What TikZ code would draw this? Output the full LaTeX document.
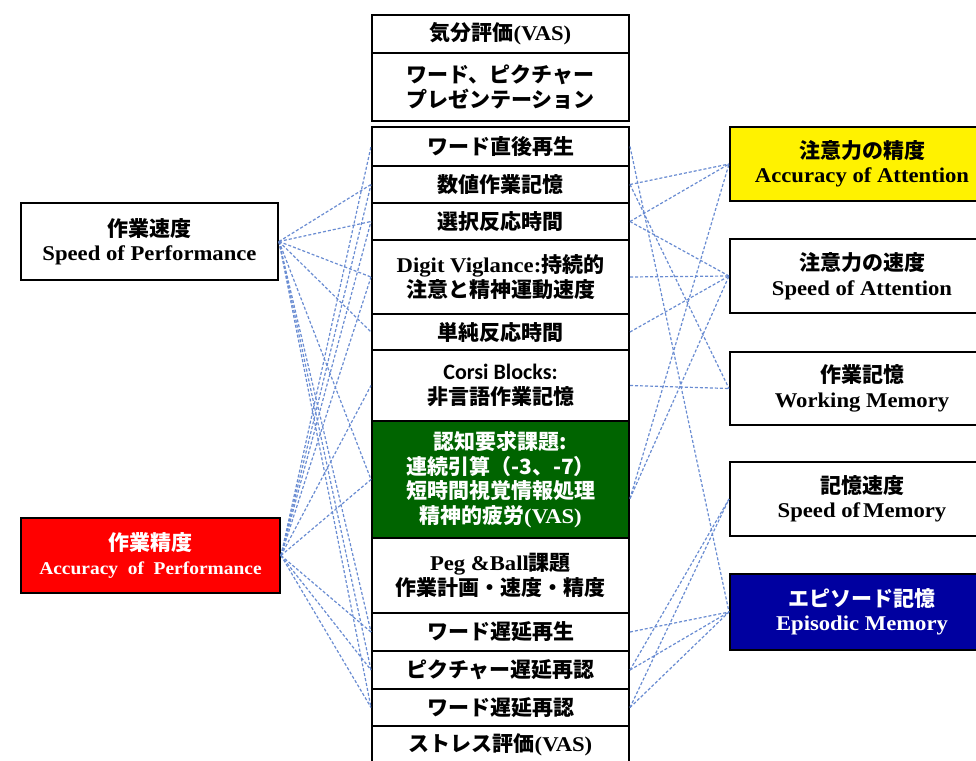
\documentclass[tikz,border=0pt]{standalone}
\usepackage{fontspec}
\setmainfont{Liberation Serif}[FakeStretch=1.08]
\newfontfamily\jp{Noto Sans CJK JP}
\newfontfamily\carl{Carlito}
\definecolor{linkblue}{RGB}{105,140,210}
\definecolor{boxgreen}{RGB}{0,100,0}
\definecolor{boxnavy}{RGB}{0,0,160}
\begin{document}
\begin{tikzpicture}[x=1pt,y=-1pt,
  box/.style={draw=black, line width=2pt, fill=white, inner sep=0pt, align=center,
    font=\bfseries\fontsize{21}{24.5}\selectfont},
  col/.style={box, minimum width=257pt, anchor=north},
  side/.style={box, minimum width=264pt, minimum height=74pt},
  link/.style={draw=linkblue, line width=1.2pt, dash pattern=on 3pt off 2pt}]
\clip (0,0) rectangle (976,760);
\fill[white] (0,0) rectangle (976,760);

% centre column
\node[col, minimum height=38pt] (c1) at (500.5,14) {{\jp 気分評価}(VAS)};
\node[col, minimum height=68pt] (c2) at (500.5,52) {{\jp ワード、ピクチャー}\\{\jp プレゼンテーション}};
\node[col, minimum height=39pt] (c3) at (500.5,126) {{\jp ワード直後再生}};
\node[col, minimum height=37pt] (c4) at (500.5,165) {{\jp 数値作業記憶}};
\node[col, minimum height=37pt] (c5) at (500.5,202) {{\jp 選択反応時間}};
\node[col, minimum height=74pt] (c6) at (500.5,239) {Digit Viglance:{\jp 持続的}\\{\jp 注意と精神運動速度}};
\node[col, minimum height=36pt] (c7) at (500.5,313) {{\jp 単純反応時間}};
\node[col, minimum height=71pt] (c8) at (500.5,349) {{\carl\fontsize{22}{24.5}\selectfont Corsi Blocks:}\\{\jp 非言語作業記憶}};
\node[col, minimum height=117pt, fill=boxgreen, text=white] (c9) at (500.5,420)
  {{\jp 認知要求課題:}\\{\jp 連続引算（-3、-7）}\\{\jp 短時間視覚情報処理}\\{\jp 精神的疲労}(VAS)};
\node[col, minimum height=75pt] (c10) at (500.5,537) {Peg \&Ball{\jp 課題}\\{\jp 作業計画・速度・精度}};
\node[col, minimum height=38pt] (c11) at (500.5,612) {{\jp ワード遅延再生}};
\node[col, minimum height=38pt] (c12) at (500.5,650) {{\jp ピクチャー遅延再認}};
\node[col, minimum height=37pt] (c13) at (500.5,688) {{\jp ワード遅延再認}};
\node[col, minimum height=37pt] (c14) at (500.5,725) {{\jp ストレス評価}(VAS)};

% left boxes
\node[box, minimum width=257pt, minimum height=77pt] (spd) at (149.5,241.5)
  {{\jp 作業速度}\\Speed of Performance};
\node[box, fill=red, text=white, minimum width=259pt, minimum height=75pt] (acc) at (150.5,555.5)
  {{\jp 作業精度}\\{\fontsize{18}{24}\selectfont Accuracy\ \ of\ \ Performance}};

% right boxes
\node[side, fill=yellow] (ya) at (862,164) {{\jp 注意力の精度}\\Accuracy of Attention};
\node[side] (sa) at (862,276) {{\jp 注意力の速度}\\Speed of Attention};
\node[side, minimum height=73pt] (wm) at (862,388.5) {{\jp 作業記憶}\\Working Memory};
\node[side] (sm) at (862,499) {{\jp 記憶速度}\\Speed of\hspace{3pt}Memory};
\node[side, minimum height=76pt, fill=boxnavy, text=white] (ep) at (862,612) {{\jp エピソード記憶}\\Episodic Memory};

\coordinate (c9e) at ([yshift=-19pt]c9.east);

% connectors, left
\foreach \t in {c4,c5,c6,c7,c9,c11,c12,c13}
  \draw[link] (spd.east) -- (\t.west);
\foreach \t in {c3,c4,c5,c6,c8,c9,c11,c12,c13}
  \draw[link] (acc.east) -- (\t.west);

% connectors, right
\draw[link] (c4.east) -- (ya.west);
\draw[link] (c5.east) -- (ya.west);
\draw[link] (c9e) -- (ya.west);
\draw[link] (c5.east) -- (sa.west);
\draw[link] (c6.east) -- (sa.west);
\draw[link] (c7.east) -- (sa.west);
\draw[link] (c9e) -- (sa.west);
\draw[link] (c4.east) -- (wm.west);
\draw[link] (c8.east) -- (wm.west);
\draw[link] (c12.east) -- (sm.west);
\draw[link] (c13.east) -- (sm.west);
\draw[link] (c3.east) -- (ep.west);
\draw[link] (c11.east) -- (ep.west);
\draw[link] (c12.east) -- (ep.west);
\draw[link] (c13.east) -- (ep.west);
\end{tikzpicture}
\end{document}
